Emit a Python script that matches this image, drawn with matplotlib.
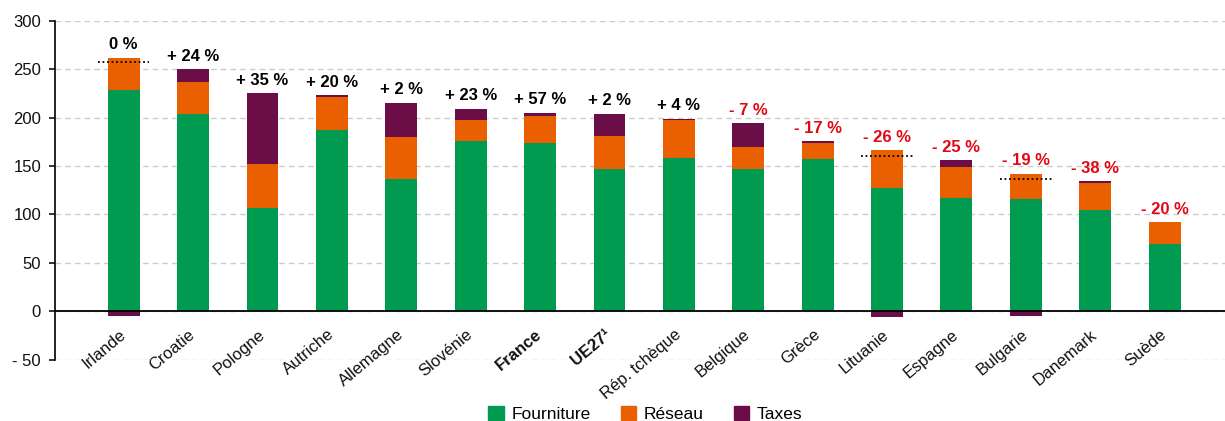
import matplotlib.pyplot as plt
from matplotlib.patches import Patch

# ---- données ----
pays = ['Irlande', 'Croatie', 'Pologne', 'Autriche', 'Allemagne', 'Slovénie', 'France', 'UE27¹',
        'Rép. tchèque', 'Belgique', 'Grèce', 'Lituanie', 'Espagne', 'Bulgarie', 'Danemark', 'Suède']
fourniture = [228, 204, 107, 187, 137, 176, 174, 147, 158, 147, 157, 127, 117, 116, 105, 69]
reseau = [34, 33, 45, 34, 43, 22, 28, 34, 40, 23, 16.5, 39, 32, 26, 27, 23]
taxes = [-5, 13, 73, 2, 35, 11, 3, 23, 1, 24, 2, -6, 7, -5, 2, 0]
evolution = ['0 %', '+ 24 %', '+ 35 %', '+ 20 %', '+ 2 %', '+ 23 %', '+ 57 %', '+ 2 %',
             '+ 4 %', '- 7 %', '- 17 %', '- 26 %', '- 25 %', '- 19 %', '- 38 %', '- 20 %']
gras = ['France', 'UE27¹']

c_four = '#009a50'
c_res = '#ea6000'
c_tax = '#6b0d47'
rouge = '#e30613'

plt.rcParams['font.family'] = ['Liberation Sans', 'DejaVu Sans']

fig = plt.figure(figsize=(12.25, 4.21), dpi=100)
ax = fig.add_axes([0.0449, 0.1456, 0.9551, 0.8052])

x = list(range(len(pays)))
w = 0.46
ax.bar(x, fourniture, w, color=c_four, zorder=3)
ax.bar(x, reseau, w, bottom=fourniture, color=c_res, zorder=3)
bas_tax = [f + r if t >= 0 else 0 for f, r, t in zip(fourniture, reseau, taxes)]
ax.bar(x, taxes, w, bottom=bas_tax, color=c_tax, zorder=3)

# ligne pointillée = total net quand les taxes sont négatives
for i in x:
    haut = fourniture[i] + reseau[i] + max(taxes[i], 0)
    if taxes[i] < 0:
        net = fourniture[i] + reseau[i] + taxes[i]
        ax.plot([i - 0.37, i + 0.37], [net, net], color='black', ls=(0, (1, 1.5)), lw=1.3, zorder=4)
    col = rouge if evolution[i].startswith('-') else 'black'
    ax.annotate(evolution[i], (i, haut), xytext=(0, 4), textcoords='offset points',
                ha='center', va='bottom', fontsize=12, fontweight='bold', color=col, zorder=5)
    ax.text(i - 0.07, -16, pays[i], rotation=40, ha='right', va='top', rotation_mode='anchor',
            fontsize=12, fontweight='bold' if pays[i] in gras else 'normal', color='#111111')

ax.axhline(0, color='black', lw=1.3, zorder=4)
ax.set_xlim(-0.99, 15.87)
ax.set_ylim(-50, 300)
ax.set_yticks(range(-50, 301, 50))
ax.set_yticklabels([('- ' + str(-v)) if v < 0 else str(v) for v in range(-50, 301, 50)], fontsize=12)
ax.set_xticks([])
ax.grid(axis='y', color='#cccccc', ls=(0, (4, 3)), lw=1, zorder=0)
for s in ['top', 'right', 'bottom']:
    ax.spines[s].set_visible(False)
ax.spines['left'].set_linewidth(1.2)
ax.tick_params(axis='y', length=4, width=1.2, pad=6, colors='#111111')

handles = [Patch(color=c_four, label='Fourniture'), Patch(color=c_res, label='Réseau'),
           Patch(color=c_tax, label='Taxes')]
fig.legend(handles=handles, loc='upper center', bbox_to_anchor=(0.527, 0.036), ncol=3,
           frameon=False, fontsize=12.5, handlelength=0.9, handleheight=0.9,
           handletextpad=0.45, columnspacing=1.7, borderaxespad=0, borderpad=0)

fig.savefig('out.png', dpi=100)
